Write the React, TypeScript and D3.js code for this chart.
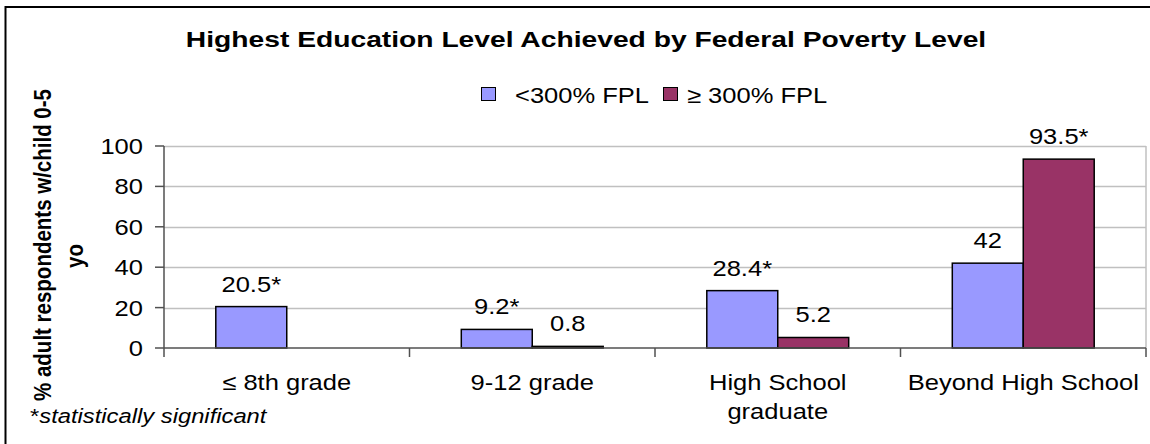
import React from 'react';
import * as d3 from 'd3';

// chart values
const categories = ['≤ 8th grade', '9-12 grade', 'High School graduate', 'Beyond High School'];
const categoryLines = [['≤ 8th grade'], ['9-12 grade'], ['High School', 'graduate'], ['Beyond High School']];
const series = ['<300% FPL', '≥ 300% FPL'];
const below300 = [20.5, 9.2, 28.4, 42];
const above300 = [null, 0.8, 5.2, 93.5];
const below300Labels = ['20.5*', '9.2*', '28.4*', '42'];
const above300Labels = ['', '0.8', '5.2', '93.5*'];
const yTicks = [0, 20, 40, 60, 80, 100];

const colors = ['#9999FF', '#993366'];
const FONT = '"Liberation Sans", Arial, sans-serif';
const SX = 1.16; // the original picture is stretched a little horizontally

const W = 1150;
const H = 444;
const plot = { left: 164, right: 1146, top: 146, bottom: 348 };

// text drawn with the horizontal stretch of the source image
const T = ({ x, y, children, anchor = 'middle', size = 22, weight = 'normal', style = 'normal', rotate = 0, sx = SX }: any) => (
  <g transform={`translate(${x},${y}) scale(${sx},1) rotate(${rotate})`}>
    <text textAnchor={anchor} fontFamily={FONT} fontSize={size} fontWeight={weight} fontStyle={style} fill="#000">
      {children}
    </text>
  </g>
);

const App = () => {
  const x0 = d3.scaleBand<string>().domain(categories).range([plot.left, plot.right]).padding(0);
  const x1 = d3.scaleBand<string>().domain(series).range([0, x0.bandwidth()]).paddingInner(0).paddingOuter(0.73);
  const y = d3.scaleLinear().domain([0, 100]).range([plot.bottom, plot.top]);

  const rows = [below300, above300];
  const labels = [below300Labels, above300Labels];

  return (
    <svg width={W} height={H} style={{ position: 'absolute', left: 0, top: 0, background: '#fff' }}>
      <rect x={5.5} y={7} width={1300} height={600} fill="#fff" stroke="#000" strokeWidth={2} />

      <T x={586} y={47} size={22.5} weight="bold" sx={1.255}>
        Highest Education Level Achieved by Federal Poverty Level
      </T>

      {/* legend */}
      {series.map((s, i) => {
        const lx = i === 0 ? 481 : 663;
        return (
          <g key={s}>
            <rect x={lx + 0.5} y={87.5} width={14} height={13} fill={colors[i]} stroke="#000" strokeWidth={1} />
            <T x={lx + (i === 0 ? 34 : 24)} y={103} anchor="start">{s}</T>
          </g>
        );
      })}

      {/* y axis title */}
      <T x={51} y={245} weight="bold" size={20.5} rotate={-90}>% adult respondents w/child 0-5</T>
      <T x={83} y={256} weight="bold" size={20.5} rotate={-90}>yo</T>

      {/* grid */}
      {yTicks.filter(t => t > 0).map(t => (
        <line key={t} x1={plot.left} x2={plot.right} y1={Math.round(y(t)) + 0.5} y2={Math.round(y(t)) + 0.5} stroke="#c0c0c0" strokeWidth={1.5} />
      ))}
      <line x1={plot.right} x2={plot.right} y1={plot.top} y2={plot.bottom} stroke="#c0c0c0" strokeWidth={1.5} />

      {/* bars */}
      {categories.map((c, ci) =>
        series.map((s, si) => {
          const v = rows[si][ci];
          if (v == null) return null;
          const bx = (x0(c) as number) + (x1(s) as number);
          const bw = x1.bandwidth();
          return (
            <g key={c + s}>
              <rect x={bx} y={y(v)} width={bw} height={plot.bottom - y(v)} fill={colors[si]} stroke="#000" strokeWidth={1.5} />
              <T x={bx + bw / 2} y={y(v) - 15}>{labels[si][ci]}</T>
            </g>
          );
        })
      )}

      {/* y axis */}
      <line x1={plot.left} x2={plot.left} y1={plot.top} y2={plot.bottom + 9} stroke="#505050" strokeWidth={1.5} />
      {yTicks.map(t => (
        <g key={t}>
          <line x1={plot.left - 9} x2={plot.left} y1={y(t)} y2={y(t)} stroke="#505050" strokeWidth={1.5} />
          <T x={143} y={y(t) + 8} anchor="end">{t}</T>
        </g>
      ))}

      {/* x axis */}
      <line x1={plot.left} x2={plot.right} y1={plot.bottom} y2={plot.bottom} stroke="#505050" strokeWidth={1.5} />
      {categories.map((c, ci) => (
        <g key={c}>
          <line x1={(x0(c) as number) + x0.bandwidth()} x2={(x0(c) as number) + x0.bandwidth()} y1={plot.bottom} y2={plot.bottom + 9} stroke="#505050" strokeWidth={1.5} />
          {categoryLines[ci].map((ln, li) => (
            <T key={ln} x={(x0(c) as number) + x0.bandwidth() / 2} y={390 + li * 29}>{ln}</T>
          ))}
        </g>
      ))}

      {/* footnote */}
      <T x={30} y={423} anchor="start" size={20.5}>
        <tspan>*</tspan>
        <tspan fontStyle="italic">statistically significant</tspan>
      </T>
    </svg>
  );
};

export default App;
